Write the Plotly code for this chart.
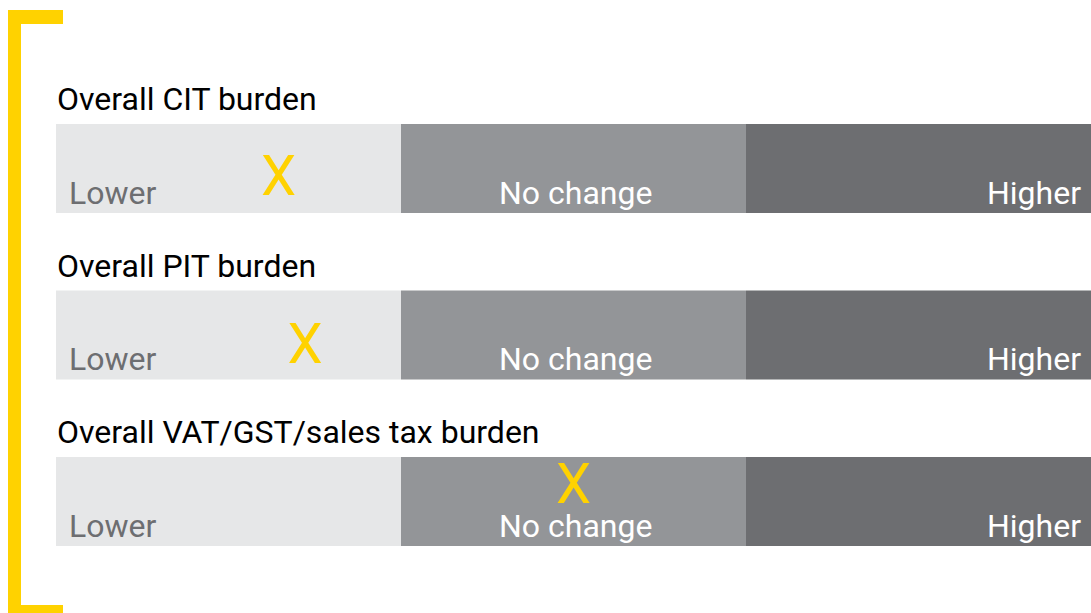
import plotly.graph_objects as go

# ---- data ----
rows = ["Overall CIT burden", "Overall PIT burden", "Overall VAT/GST/sales tax burden"]
segments = ["Lower", "No change", "Higher"]
segment_widths = [1, 1, 1]
marker_values = [0.645, 0.722, 1.5]   # position of the X on the Lower/No change/Higher scale

# ---- style ----
W, H = 1091, 613
seg_colors = ["#e6e7e8", "#939598", "#6d6e71"]
label_colors = ["#6d6e71", "#ffffff", "#ffffff"]
yellow = "#ffd200"
font_family = "Roboto"
unit = 166.5                       # px per row
row_center0 = 168.5                # px of first row center
marker_px_offsets = [12.5, 13.5, -12.5]

ypos = list(range(len(rows)))
fig = go.Figure()

for i, seg in enumerate(segments):
    fig.add_trace(go.Bar(
        y=ypos, x=[segment_widths[i]] * len(rows), base=[sum(segment_widths[:i])] * len(rows),
        orientation="h", width=89 / unit, marker=dict(color=seg_colors[i], line=dict(width=0)),
        name=seg, showlegend=False, hoverinfo="skip"))

fig.add_trace(go.Scatter(
    x=marker_values, y=[r + o / unit for r, o in zip(ypos, marker_px_offsets)],
    mode="text", text=["X"] * len(rows), textposition="middle center",
    textfont=dict(family=font_family, size=56, color=yellow), showlegend=False, hoverinfo="skip"))

total = sum(segment_widths)
annotations = []
for r, title in zip(ypos, rows):
    annotations.append(dict(x=0, y=r - 69.5 / unit, xref="x", yref="y", text=title, showarrow=False,
                            xanchor="left", yanchor="middle", xshift=-1,
                            font=dict(family=font_family, size=32, color="#000000")))
    # segment labels
    annotations.append(dict(x=0, y=r + 24 / unit, xref="x", yref="y", text=segments[0], showarrow=False,
                            xanchor="left", yanchor="middle", xshift=11,
                            font=dict(family=font_family, size=32, color=label_colors[0])))
    annotations.append(dict(x=segment_widths[0] + segment_widths[1] / 2, y=r + 24 / unit, xref="x", yref="y",
                            text=segments[1], showarrow=False, xanchor="center", yanchor="middle", xshift=2,
                            font=dict(family=font_family, size=32, color=label_colors[1])))
    annotations.append(dict(x=total, y=r + 24 / unit, xref="x", yref="y", text=segments[2], showarrow=False,
                            xanchor="right", yanchor="middle", xshift=-8,
                            font=dict(family=font_family, size=32, color=label_colors[2])))

# yellow bracket (decoration)
def rect(x0, y0, x1, y1):
    return dict(type="rect", xref="paper", yref="paper", x0=x0 / W, x1=x1 / W,
                y0=1 - y1 / H, y1=1 - y0 / H, fillcolor=yellow, line=dict(width=0), layer="above")

shapes = [rect(8, 10, 21, 613), rect(8, 10, 63, 24), rect(8, 605, 63, 613)]

fig.update_layout(
    width=W, height=H, margin=dict(l=0, r=0, t=0, b=0),
    paper_bgcolor="white", plot_bgcolor="white", barmode="overlay",
    xaxis=dict(range=[0, total], domain=[56 / W, 1], visible=False, fixedrange=True),
    yaxis=dict(range=[(H - row_center0) / unit, -row_center0 / unit], visible=False, fixedrange=True),
    annotations=annotations, shapes=shapes,
)

fig.write_html("out.html", config={"displayModeBar": False},
               post_script="document.body.style.margin='0';document.body.style.overflow='hidden';")
